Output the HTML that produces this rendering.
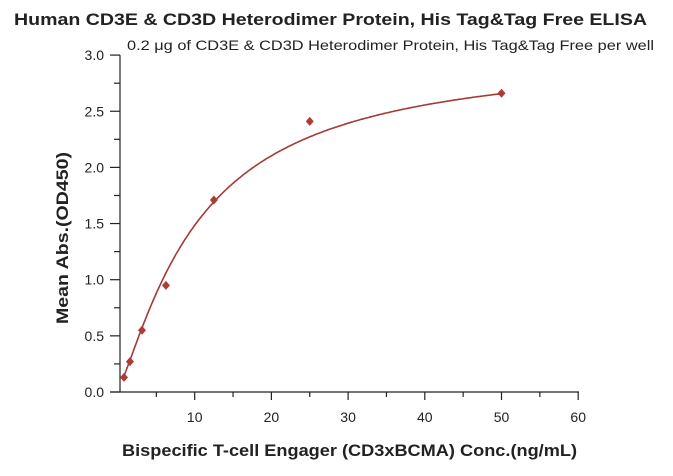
<!DOCTYPE html>
<html><head><meta charset="utf-8"><style>
body{margin:0;background:#fff;}
svg text{font-family:"Liberation Sans",sans-serif;fill:#222;}
</style></head><body>
<svg id="s" width="673" height="471" xmlns="http://www.w3.org/2000/svg">
<text x="14" y="25" font-size="17" font-weight="bold" textLength="633" lengthAdjust="spacingAndGlyphs">Human CD3E &amp; CD3D Heterodimer Protein, His Tag&amp;Tag Free ELISA</text>
<text x="127" y="50" font-size="14" textLength="527" lengthAdjust="spacingAndGlyphs">0.2 μg of CD3E &amp; CD3D Heterodimer Protein, His Tag&amp;Tag Free per well</text>
<text transform="translate(68,238) rotate(-90)" text-anchor="middle" font-size="17" font-weight="bold" textLength="172" lengthAdjust="spacingAndGlyphs">Mean Abs.(OD450)</text>
<text x="122" y="456" font-size="17" font-weight="bold" textLength="455" lengthAdjust="spacingAndGlyphs">Bispecific T-cell Engager (CD3xBCMA) Conc.(ng/mL)</text>
<g id="ax" stroke="#222" stroke-width="1.2" fill="none"></g>
<g id="lb" font-size="14" fill="#222"></g>
<path id="cv" fill="none" stroke="#a33a35" stroke-width="1.6"/>
<g id="pt" fill="#b03a35"></g>
</svg>
<script>
const X=v=>118+v*7.67, Y=v=>392-v*112.3;
let ax=document.getElementById('ax'),lb=document.getElementById('lb'),h='',t='';
h+=`<path d="M120 ${Y(3)} V392 M110 392 H579"/>`;
for(let i=0;i<=12;i++){let v=i*0.25,y=Y(v);h+=`<path d="M${i%2?114:110} ${y} H120"/>`;if(i%2==0)t+=`<text x="104" y="${y+5}" text-anchor="end">${v.toFixed(1)}</text>`;}
for(let i=1;i<=12;i++){let v=i*5,x=X(v);h+=`<path d="M${x} 392 V${i%2?397:400}"/>`;if(i%2==0)t+=`<text x="${x}" y="422" text-anchor="middle">${v}</text>`;}
ax.innerHTML=h;lb.innerHTML=t;
let d='';const hh=1.25,K=Math.pow(10.5,hh);for(let x=0.78;x<=50.01;x+=0.2){let p=Math.pow(x,hh);let y=0.03+3.0*p/(K+p);d+=(d?'L':'M')+X(x).toFixed(1)+' '+Y(y).toFixed(1);}
document.getElementById('cv').setAttribute('d',d);
let pts=[[0.78,0.13],[1.56,0.27],[3.125,0.55],[6.25,0.95],[12.5,1.71],[25,2.41],[50,2.66]],g='';
for(const[a,b]of pts){let x=X(a),y=Y(b);g+=`<path d="M${x} ${y-4.5}L${x+4} ${y}L${x} ${y+4.5}L${x-4} ${y}Z"/>`;}
document.getElementById('pt').innerHTML=g;
</script>
</body></html>
